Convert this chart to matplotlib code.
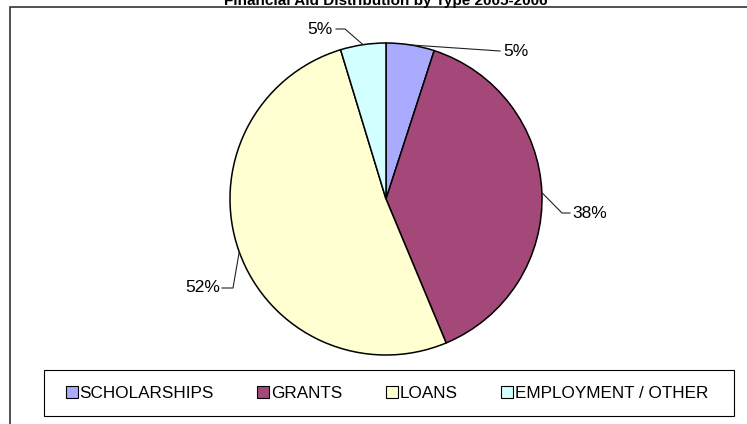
import numpy as np
import matplotlib
matplotlib.use("Agg")
import matplotlib.pyplot as plt
from matplotlib.patches import Patch, Rectangle

plt.rcParams['font.family'] = ['Liberation Sans', 'DejaVu Sans']

# data
categories = ["SCHOLARSHIPS", "GRANTS", "LOANS", "EMPLOYMENT / OTHER"]
shares = [5.0, 38.7, 51.6, 4.7]
labels = ["5%", "38%", "52%", "5%"]
colors = ["#AAAAFF", "#A4487A", "#FFFFD2", "#D2FFFF"]
title = "Financial Aid Distribution by Type 2005-2006"

W, H = 747, 424
cx, cy, r = 386, 199, 156

fig = plt.figure(figsize=(W / 100, H / 100), dpi=100)

# outer chart frame (only left and top edge visible)
fig.add_artist(Rectangle((10 / W, -0.1), 1.0, 1 - 6.5 / H + 0.1, transform=fig.transFigure,
                         fill=False, edgecolor="#333333", linewidth=1.2))

fig.text(386 / W, 1 - 4.5 / H, title, ha="center", va="baseline",
         fontsize=11, fontweight="bold")

ax = fig.add_axes([(cx - r) / W, (H - cy - r) / H, 2 * r / W, 2 * r / H])
wedges, _ = ax.pie(shares, colors=colors, startangle=90, counterclock=False,
                   wedgeprops=dict(edgecolor="black", linewidth=1.1))
ax.set_xlim(-1, 1)
ax.set_ylim(-1, 1)
ax.axis("off")


def px(x, y):
    return (x - cx) / r, (cy - y) / r


# label layout in pixels: elbow points then text anchor
label_layout = [
    ([(500, 51)], (503, 51), "left"),
    ([(562, 213), (570, 213)], (572, 213), "left"),
    ([(233, 288), (222, 288)], (220, 288), "right"),
    ([(345, 29), (336, 29)], (333, 29), "right"),
]

for w, lab, (elbows, (tx, ty), ha) in zip(wedges, labels, label_layout):
    mid = np.deg2rad((w.theta1 + w.theta2) / 2)
    pts = [(np.cos(mid), np.sin(mid))] + [px(*e) for e in elbows]
    xs, ys = zip(*pts)
    ax.plot(xs, ys, color="#222222", linewidth=0.8, clip_on=False)
    x, y = px(tx, ty)
    ax.text(x, y, lab, ha=ha, va="center", fontsize=12.5, clip_on=False)

# legend box
fig.add_artist(Rectangle((44 / W, 1 - 416 / H), 690 / W, 46 / H, transform=fig.transFigure,
                         fill=False, edgecolor="black", linewidth=0.8))
handles = [Patch(facecolor=c, edgecolor="black", linewidth=0.8) for c in colors]
fig.legend(handles, categories, loc="center", ncol=4,
           bbox_to_anchor=(387 / W, 1 - 393 / H),
           frameon=False, fontsize=12.3,
           handlelength=0.7, handleheight=0.7, handletextpad=0.1,
           columnspacing=2.55, borderpad=0, borderaxespad=0)

fig.savefig("out.png", dpi=100)
